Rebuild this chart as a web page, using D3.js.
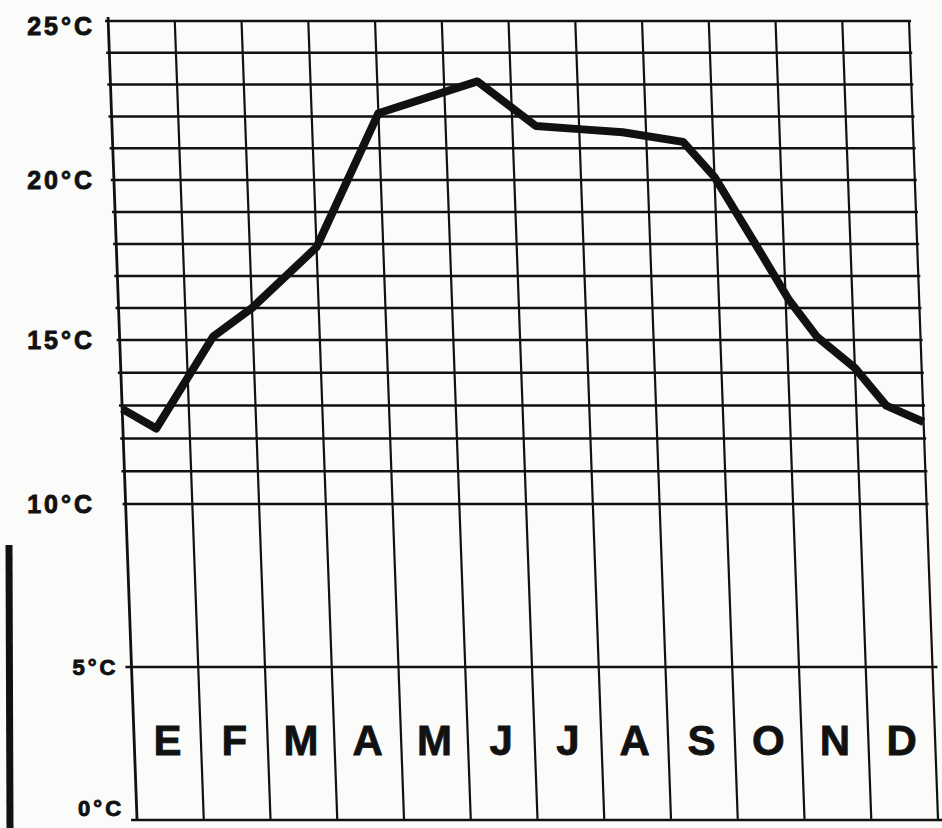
<!DOCTYPE html>
<html>
<head>
<meta charset="utf-8">
<script src="https://cdn.jsdelivr.net/npm/d3@7"></script>
<style>
  html, body { margin: 0; padding: 0; background: #fbfbfa; }
  svg { display: block; }
  text { font-family: "Liberation Sans", Arial, sans-serif; font-weight: bold; fill: #111; stroke: #111; }
</style>
</head>
<body>
<div id="chart"></div>
<script>
// month initials (Spanish)
var months = ["E", "F", "M", "A", "M", "J", "J", "A", "S", "O", "N", "D"];
// labelled temperatures on the left
var tempTicks = [0, 5, 10, 15, 20, 25];
// horizontal rules of the grid
var gridTemps = [0, 5, 10, 11, 12, 13, 14, 15, 16, 17, 18, 19, 20, 21, 22, 23, 24, 25];
// vertices of the hand drawn curve: position in months, temperature in °C
var curveMonth = [0, 0.5, 1.4, 2, 3, 4, 5.5, 6.35, 7, 7.65, 8.55, 9, 9.55, 10.05, 10.45, 11, 11.45, 12];
var curveTemp = [12.9, 12.3, 15.1, 16.0, 17.9, 22.1, 23.1, 21.7, 21.6, 21.5, 21.2, 20.1, 18.1, 16.25, 15.1, 14.15, 13.0, 12.5];

var width = 942;
var height = 828;
var gridTop = 20;
var shear = 0.0363; // the grid leans to the right going down

var svg = d3.select("#chart")
  .append("svg")
  .attr("width", width)
  .attr("height", height);

var y = d3.scaleLinear()
  .domain([0, 5, 10, 15, 20, 25])
  .range([820, 667, 504, 340, 180, 21]);

var x = d3.scaleLinear()
  .domain([0, months.length])
  .range([108, 909]);

function px(u, yy) {
  return x(u) + (yy - gridTop) * shear;
}

// horizontal grid
svg.append("g")
  .selectAll("line")
  .data(gridTemps)
  .enter().append("line")
  .attr("x1", function(d) { return px(0, y(d)) - (d <= 5 ? 6 : 3); })
  .attr("x2", function(d) { return px(12, y(d)) + (d <= 5 ? 5 : 2); })
  .attr("y1", function(d) { return y(d); })
  .attr("y2", function(d) { return y(d); })
  .attr("stroke", "#111")
  .attr("stroke-width", 2.5);

// vertical month dividers
svg.append("g")
  .selectAll("line")
  .data(d3.range(months.length + 1))
  .enter().append("line")
  .attr("x1", function(d) { return px(d, y(25)); })
  .attr("x2", function(d) { return px(d, y(0)); })
  .attr("y1", function(d) { return d === 0 ? y(25) - 4 : y(25); })
  .attr("y2", function(d) { return y(0); })
  .attr("stroke", "#111")
  .attr("stroke-width", function(d) { return d === 0 ? 2.8 : 2.2; });

// temperature labels
svg.append("g")
  .selectAll("text")
  .data(tempTicks)
  .enter().append("text")
  .attr("x", function(d) { return (d >= 10 ? 92 : px(0, y(d)) - 16) + 3; })
  .attr("y", function(d) { return y(d) + (d === 25 ? 5 : 0) + (d === 0 ? -12 : 0); })
  .attr("dy", "0.36em")
  .attr("text-anchor", "end")
  .style("font-size", function(d) { return d <= 5 ? "22px" : "25px"; })
  .style("letter-spacing", "3px")
  .style("stroke-width", "0.9px")
  .text(function(d) { return d + "°C"; });

// month letters
svg.append("g")
  .selectAll("text")
  .data(months)
  .enter().append("text")
  .attr("x", function(d, i) { return px(i + 0.5, 740); })
  .attr("y", 755)
  .attr("text-anchor", "middle")
  .style("font-size", "42px")
  .style("stroke-width", "0.8px")
  .text(function(d) { return d; });

// temperature curve
var pts = curveMonth.map(function(m, i) { return { m: m, t: curveTemp[i] }; });
var line = d3.line()
  .x(function(d) { return px(d.m, y(d.t)); })
  .y(function(d) { return y(d.t); });

svg.append("path")
  .datum(pts)
  .attr("d", line)
  .attr("fill", "none")
  .attr("stroke", "#111")
  .attr("stroke-width", 8)
  .attr("stroke-linejoin", "round");

// dark edge of the scanned sheet
svg.append("line")
  .attr("x1", 9).attr("x2", 10)
  .attr("y1", 545).attr("y2", height)
  .attr("stroke", "#111")
  .attr("stroke-width", 7);
</script>
</body>
</html>
